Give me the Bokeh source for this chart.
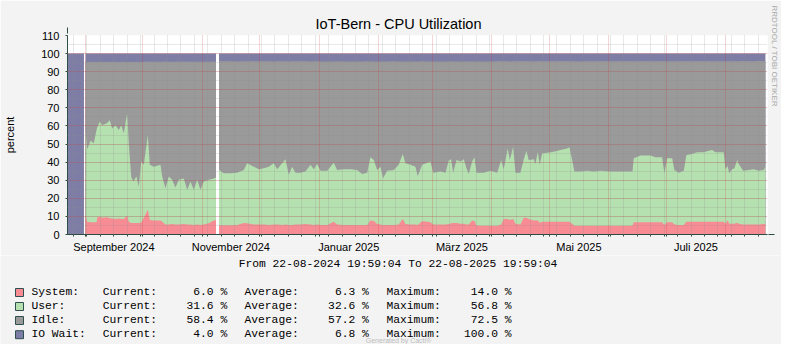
import math
import pandas as pd
from bokeh.plotting import figure
from bokeh.layouts import column
from bokeh.models import (ColumnDataSource, FixedTicker, SingleIntervalTicker, Title,
                          Range1d, Arrow, NormalHead)
from bokeh.core.properties import value
from bokeh.embed import file_html
from bokeh.resources import INLINE

NAN = float("nan")

# ---------------- data ----------------
TITLE = "IoT-Bern - CPU Utilization"
START = "2024-08-22 19:59:04"
END = "2025-08-22 19:59:04"
PERIOD_TEXT = "From 22-08-2024 19:59:04 To 22-08-2025 19:59:04"
WATERMARK = "RRDTOOL / TOBI OETIKER"
FOOTER = "Generated by Cacti®"

times = [
    "2024-08-22 19:59", "2024-08-31 10:00", "2024-08-31 20:00",
    "2024-09-01 06:00", "2024-09-02 02:00", "2024-09-03 20:00", "2024-09-05 13:00", "2024-09-06 23:00",
    "2024-09-07 11:00", "2024-09-08 16:00", "2024-09-09 22:00", "2024-09-12 13:00", "2024-09-13 21:00",
    "2024-09-15 03:00", "2024-09-16 21:00", "2024-09-18 14:00", "2024-09-19 20:00", "2024-09-21 04:00",
    "2024-09-22 23:00", "2024-09-23 19:00", "2024-09-25 01:00", "2024-09-26 02:00", "2024-09-27 19:00",
    "2024-09-29 00:00", "2024-09-30 06:00",
    "2024-10-01 15:00", "2024-10-03 17:00", "2024-10-04 18:00", "2024-10-06 20:00", "2024-10-10 08:00",
    "2024-10-11 05:00", "2024-10-12 22:00", "2024-10-14 16:00", "2024-10-16 10:00", "2024-10-18 03:00",
    "2024-10-19 21:00", "2024-10-22 11:00", "2024-10-24 06:00", "2024-10-25 23:00", "2024-10-27 16:00",
    "2024-10-29 11:00", "2024-10-31 04:00",
    "2024-11-01 21:00", "2024-11-04 12:00", "2024-11-07 03:00", "2024-11-08 06:00", "2024-11-09 01:00",
    "2024-11-09 20:00", "2024-11-12 08:00", "2024-11-15 19:00", "2024-11-19 07:00", "2024-11-22 18:00",
    "2024-11-24 12:00", "2024-11-27 23:00", "2024-11-30 14:00",
    "2024-12-03 04:00", "2024-12-05 19:00", "2024-12-08 09:00", "2024-12-10 04:00", "2024-12-12 18:00",
    "2024-12-14 12:00", "2024-12-16 05:00", "2024-12-17 23:00", "2024-12-19 17:00", "2024-12-22 07:00",
    "2024-12-24 22:00", "2024-12-27 13:00", "2024-12-29 06:00", "2024-12-31 00:00",
    "2025-01-01 18:00", "2025-01-05 06:00", "2025-01-08 16:00", "2025-01-10 11:00", "2025-01-13 21:00",
    "2025-01-17 09:00", "2025-01-20 21:00", "2025-01-23 12:00", "2025-01-26 02:00", "2025-01-27 19:00",
    "2025-01-29 13:00", "2025-01-31 07:00",
    "2025-02-02 00:00", "2025-02-03 10:00", "2025-02-05 12:00", "2025-02-08 23:00", "2025-02-11 13:00",
    "2025-02-13 16:00", "2025-02-15 01:00", "2025-02-17 16:00", "2025-02-20 06:00", "2025-02-21 11:00",
    "2025-02-23 18:00", "2025-02-26 09:00", "2025-02-28 02:00",
    "2025-03-01 12:00", "2025-03-05 07:00", "2025-03-07 22:00", "2025-03-09 15:00", "2025-03-10 21:00",
    "2025-03-11 22:00", "2025-03-13 16:00", "2025-03-15 18:00", "2025-03-17 11:00", "2025-03-18 21:00",
    "2025-03-20 01:00", "2025-03-21 20:00", "2025-03-23 01:00", "2025-03-24 02:00", "2025-03-27 21:00",
    "2025-03-31 09:00",
    "2025-04-03 21:00", "2025-04-05 23:00", "2025-04-07 07:00", "2025-04-09 09:00", "2025-04-10 11:00",
    "2025-04-12 05:00", "2025-04-13 10:00", "2025-04-16 00:00", "2025-04-17 18:00", "2025-04-19 03:00",
    "2025-04-20 08:00", "2025-04-22 23:00", "2025-04-23 20:00", "2025-04-25 01:00", "2025-04-26 02:00",
    "2025-04-27 08:00", "2025-04-29 23:00",
    "2025-05-03 09:00", "2025-05-06 21:00", "2025-05-10 09:00", "2025-05-11 13:00", "2025-05-12 23:00",
    "2025-05-14 04:00", "2025-05-17 07:00", "2025-05-20 19:00", "2025-05-24 06:00", "2025-05-27 18:00",
    "2025-06-01 23:00", "2025-06-07 04:00", "2025-06-13 10:00", "2025-06-14 02:00", "2025-06-17 14:00",
    "2025-06-22 19:00", "2025-06-25 10:00", "2025-06-28 21:00", "2025-06-30 02:00",
    "2025-07-01 12:00", "2025-07-04 03:00", "2025-07-05 07:00", "2025-07-07 13:00", "2025-07-10 04:00",
    "2025-07-11 13:00", "2025-07-14 13:00", "2025-07-17 03:00", "2025-07-20 14:00", "2025-07-23 05:00",
    "2025-07-24 23:00", "2025-07-26 16:00", "2025-07-31 00:00", "2025-07-31 22:00",
    "2025-08-02 02:00", "2025-08-02 20:00", "2025-08-04 09:00", "2025-08-05 14:00", "2025-08-07 00:00",
    "2025-08-07 20:00", "2025-08-10 03:00", "2025-08-13 01:00", "2025-08-15 16:00", "2025-08-18 06:00",
    "2025-08-20 21:00", "2025-08-21 18:00",
]

system = [
    0.0, 0.0, NAN,
    11.0, 7.0, 6.8, 6.8, 6.8, 9.7, 9.7, 9.2, 9.5, 9.0, 8.8, 8.6, 8.8, 8.5, 8.6, 10.4, 7.0, 6.4, 6.4, 6.4, 6.4, 6.5,
    9.2, 13.7, 8.0, 7.7, 7.7, 7.0, 5.5, 5.5, 5.8, 5.5, 5.5, 5.8, 5.5, 5.5, 5.3, 5.5, 5.3,
    5.5, 6.2, 7.7, 7.9, NAN, 5.1, 5.1, 5.1, 5.3, 6.4, 6.2, 5.5, 5.5,
    5.5, 5.3, 5.5, 5.5, 5.3, 5.5, 5.3, 5.3, 5.5, 5.5, 5.8, 5.5, 5.3, 5.5,
    5.3, 5.3, 7.0, 5.5, 5.3, 5.3, 5.2, 5.2, 5.3, 7.7, 7.5, 5.8,
    5.5, 5.3, 5.3, 5.3, 5.5, 8.6, 5.8, 5.5, 5.5, 5.3, 7.3, 7.0, 6.8,
    5.5, 5.5, 5.5, 5.8, 6.2, 6.4, 6.4, 6.0, 6.0, 5.5, 5.5, 7.7, 7.5, 5.0, 4.9, 4.9,
    4.9, 5.5, 8.6, 8.6, 8.0, 8.6, 6.0, 5.5, 9.2, 9.2, 8.5, 7.7, 7.7, 7.7, 6.5, 7.1, 7.1,
    7.1, 7.1, 7.1, 7.1, 6.0, 4.9, 4.9, 4.9, 4.9, 4.9,
    4.9, 4.9, 4.9, 6.8, 6.8, 6.8, 6.8, 6.8, 5.3,
    6.8, 6.8, 5.5, 5.3, 5.3, 7.1, 7.1, 7.1, 7.1, 7.1, 7.1, 7.1, 7.1, 6.0,
    7.9, 6.0, 6.0, 6.0, 6.5, 6.0, 5.5, 5.5, 5.5, 5.5, 5.8, 6.0,
]

user = [
    0.0, 0.0, NAN,
    46.7, 40.1, 45.0, 43.6, 50.9, 49.8, 52.6, 51.2, 52.2, 54.2, 49.8, 51.8, 48.9, 51.9, 47.3, 56.6, 43.4, 25.6,
    22.9, 25.6, 20.1, 33.8,
    29.3, 41.3, 30.5, 29.8, 30.8, 25.0, 20.1, 26.5, 24.4, 20.5, 24.7, 25.2, 19.2, 23.8, 19.4, 24.7, 19.4,
    23.8, 24.0, 23.3, 23.6, NAN, 30.6, 28.8, 28.8, 28.9, 29.3, 33.2, 32.0, 30.6,
    31.1, 32.2, 33.9, 30.6, 34.1, 36.1, 27.7, 32.2, 28.7, 28.7, 29.0, 33.0, 30.8, 33.5,
    30.0, 30.0, 32.7, 30.2, 30.8, 30.8, 30.5, 28.3, 28.9, 35.0, 33.7, 29.9,
    32.0, 25.8, 30.0, 30.4, 33.0, 35.9, 33.6, 33.0, 32.0, 27.0, 31.2, 32.7, 33.5,
    28.7, 29.3, 28.7, 35.1, 35.4, 27.8, 34.8, 34.3, 35.6, 31.1, 28.0, 32.6, 35.2, 29.2, 29.3, 30.3,
    29.3, 35.7, 27.5, 39.0, 33.2, 39.9, 28.2, 28.7, 32.4, 37.1, 32.7, 33.9, 31.3, 38.1, 32.0, 37.8, 38.1,
    38.7, 39.6, 40.5, 41.1, 35.2, 29.9, 29.9, 30.3, 29.9, 30.3,
    29.9, 29.9, 29.9, 35.3, 36.8, 36.8, 35.9, 35.9, 28.6,
    35.3, 35.3, 30.2, 28.9, 30.0, 36.9, 37.4, 38.3, 38.3, 39.2, 39.6, 38.3, 38.3, 30.1,
    30.0, 27.9, 30.1, 30.6, 34.7, 33.0, 29.8, 30.2, 30.6, 29.7, 29.9, 31.6,
]

iowait = [
    100.0, 100.0, NAN,
    4.4, 4.6, 4.6, 4.5, 4.6, 4.6, 4.5, 4.6, 4.6, 4.6, 4.5, 4.6, 4.6, 4.6, 4.5, 4.6, 4.6, 4.6, 4.6, 4.5, 4.6, 4.6,
    4.5, 4.5, 4.4, 4.5, 4.5, 4.5, 4.4, 4.5, 4.5, 4.5, 4.5, 4.4, 4.5, 4.5, 4.5, 4.5, 4.5,
    4.5, 4.5, 4.4, 4.5, NAN, 4.3, 4.3, 4.3, 4.4, 4.3, 4.3, 4.3, 4.3,
    4.3, 4.3, 4.4, 4.3, 4.3, 4.3, 4.4, 4.3, 4.3, 4.3, 4.3, 4.4, 4.3, 4.3,
    4.4, 4.4, 4.4, 4.3, 4.4, 4.4, 4.4, 4.4, 4.3, 4.4, 4.4, 4.4,
    4.4, 4.4, 4.4, 4.3, 4.4, 4.4, 4.4, 4.4, 4.4, 4.4, 4.3, 4.4, 4.4,
    4.4, 4.4, 4.4, 4.4, 4.3, 4.4, 4.4, 4.4, 4.4, 4.4, 4.4, 4.3, 4.4, 4.4, 4.4, 4.4,
    4.3, 4.3, 4.3, 4.3, 4.4, 4.3, 4.3, 4.3, 4.3, 4.3, 4.3, 4.4, 4.3, 4.3, 4.3, 4.3, 4.3,
    4.3, 4.3, 4.3, 4.3, 4.3, 4.3, 4.4, 4.3, 4.3, 4.3,
    4.3, 4.3, 4.3, 4.3, 4.3, 4.3, 4.3, 4.3, 4.3,
    4.2, 4.2, 4.2, 4.3, 4.2, 4.2, 4.2, 4.2, 4.2, 4.2, 4.2, 4.2, 4.2, 4.2,
    4.2, 4.2, 4.2, 4.2, 4.2, 4.2, 4.1, 4.2, 4.2, 4.1, 4.1, 4.0,
]

series_names = ["System:", "User:", "Idle:", "IO Wait:"]
series_colors = ["#F78C94", "#B5E0B0", "#9A9A9A", "#7D7DA6"]
current_vals = ["6.0 %", "31.6 %", "58.4 %", "4.0 %"]
average_vals = ["6.3 %", "32.6 %", "57.2 %", "6.8 %"]
maximum_vals = ["14.0 %", "56.8 %", "72.5 %", "100.0 %"]

x_label_months = ["2024-09-01", "2024-11-01", "2025-01-01", "2025-03-01", "2025-05-01", "2025-07-01"]
x_label_texts = ["September 2024", "November 2024", "Januar 2025", "März 2025", "Mai 2025", "Juli 2025"]
y_label = "percent"

assert len(times) == len(system) == len(user) == len(iowait)

# ---------------- styling / layout ----------------
BACK = "#F3F3F3"
AXIS = "#2C4D43"
MGRID = "#D03030"
GRID = "#8C8C8C"
W = 781
H_MAIN, H_LEG = 255, 89
FL, FR, FT, FB = 67, 767, 35, 235   # plot frame edges (px)
SANS = "Liberation Sans"
MONO = "Liberation Mono"


def ms(ts):
    return int(pd.Timestamp(ts).value // 10**6)


p = figure(width=W, height=H_MAIN, x_axis_type="datetime", output_backend="svg", toolbar_location=None,
           x_range=Range1d(ms(START), ms(END)), y_range=Range1d(0, 110),
           min_border_left=FL, min_border_right=W - FR, min_border_top=FT, min_border_bottom=H_MAIN - FB,
           background_fill_color="#FFFFFF", border_fill_color=BACK)
p.outline_line_color = None
p.frame_align = False

# title (left aligned at its measured start, above the frame)
p.title.text = TITLE
p.title.align = "left"
p.title.offset = 248
p.title.standoff = 7
p.title.text_font = SANS
p.title.text_font_size = "14.5px"
p.title.text_font_style = "normal"
p.title.text_color = "#000000"

p.add_layout(Title(text=WATERMARK, align="left", offset=-30, vertical_align="middle", standoff=2,
                   text_font=SANS, text_font_size="8px", text_font_style="normal",
                   text_color="#A8A8A8"), "right")

# ---------------- stacked areas ----------------
df = pd.DataFrame({"t": pd.to_datetime(times), "sys": system, "usr": user, "io": iowait})
df["top_sys"] = df["sys"]
df["top_usr"] = df["sys"] + df["usr"]
df["top_idle"] = 100.0 - df["io"]
df["top_io"] = 100.0
df["zero"] = 0.0
seg_id = df["sys"].isna().cumsum()
valid = df["sys"].notna()
layers = [("top_io", series_colors[3]), ("top_idle", series_colors[2]),
          ("top_usr", series_colors[1]), ("top_sys", series_colors[0])]
segments = [ColumnDataSource(seg) for _, seg in df[valid].groupby(seg_id[valid])]
for col, color in layers:
    for src in segments:
        p.varea(x="t", y1="zero", y2=col, source=src, fill_color=color, fill_alpha=1.0)

# ---------------- axes & grid ----------------
month_starts = [ms(t) for t in pd.date_range("2024-09-01", "2025-08-01", freq="MS")]
mondays = [ms(t) for t in pd.date_range("2024-08-26", "2025-08-22", freq="7D")]
label_ticks = []
for m in x_label_months:
    a = pd.Timestamp(m)
    b = a + pd.offsets.MonthBegin(1)
    label_ticks.append(ms(a + (b - a) / 2))

xa = p.xaxis[0]
xa.ticker = FixedTicker(ticks=label_ticks, minor_ticks=sorted(set(month_starts + mondays)))
xa.major_label_overrides = {t: s for t, s in zip(label_ticks, x_label_texts)}
xa.major_tick_out = 0
xa.major_tick_in = 0
xa.minor_tick_out = 2
xa.minor_tick_in = 0
xa.major_label_standoff = 4

ya = p.yaxis[0]
yt = SingleIntervalTicker(interval=10, num_minor_ticks=2)
ya.ticker = yt
ya.major_tick_out = 2
ya.major_tick_in = 0
ya.minor_tick_out = 0
ya.minor_tick_in = 0
ya.major_label_standoff = 6
ya.axis_label = y_label
ya.axis_label_standoff = 22
ya.axis_label_text_font = SANS
ya.axis_label_text_font_size = "11px"
ya.axis_label_text_font_style = "normal"
ya.axis_label_text_color = "#000000"

for ax in (xa, ya):
    ax.axis_line_color = AXIS
    ax.major_tick_line_color = AXIS
    ax.minor_tick_line_color = AXIS
    ax.major_label_text_font = SANS
    ax.major_label_text_font_size = "11px"
    ax.major_label_text_color = "#000000"

p.xgrid.ticker = FixedTicker(ticks=month_starts, minor_ticks=mondays)
p.ygrid.ticker = yt
for g in (p.xgrid[0], p.ygrid[0]):
    g.grid_line_color = MGRID
    g.grid_line_alpha = 0.4
    g.grid_line_dash = "1 1"
    g.grid_line_width = 1
    g.minor_grid_line_color = GRID
    g.minor_grid_line_alpha = 0.4
    g.minor_grid_line_dash = "1 1"
    g.minor_grid_line_width = 1
    g.level = "overlay"

# axis arrows
p.add_layout(Arrow(end=NormalHead(size=6, fill_color=AXIS, line_color=AXIS, line_width=1),
                   x_start=0, y_start=200, x_end=0, y_end=207,
                   start_units="screen", end_units="screen", line_color=AXIS, line_width=1))
p.add_layout(Arrow(end=NormalHead(size=6, fill_color=AXIS, line_color=AXIS, line_width=1),
                   x_start=700, y_start=0, x_end=707, y_end=0,
                   start_units="screen", end_units="screen", line_color=AXIS, line_width=1))

# ---------------- legend panel (pixel-scaled figure below the chart) ----------------
q = figure(width=W, height=H_LEG, output_backend="svg", toolbar_location=None,
           x_range=Range1d(0, W), y_range=Range1d(H_MAIN + H_LEG, H_MAIN),
           min_border=0, min_border_left=0, min_border_right=0, min_border_top=0, min_border_bottom=0,
           background_fill_color=BACK, border_fill_color=BACK)
q.frame_align = False
q.outline_line_color = None
q.axis.visible = False
q.grid.visible = False

row_y = [291.3, 305.3, 319.3, 333.5]
col_x = {"name": 31, "cur_lbl": 102.3, "cur": 226.7, "avg_lbl": 244, "avg": 368.3, "max_lbl": 386, "max": 511}

q.rect(x=[19] * 4, y=[y + 0.7 for y in row_y], width=8, height=8,
       fill_color=series_colors, line_color="#2F4F4F", line_width=1)

lx, ly, lt = [], [], []
rx, ry, rt = [], [], []
for i in range(4):
    y = row_y[i]
    for key, txt in (("name", series_names[i]), ("cur_lbl", "Current:"),
                     ("avg_lbl", "Average:"), ("max_lbl", "Maximum:")):
        lx.append(col_x[key]); ly.append(y); lt.append(txt)
    for key, txt in (("cur", current_vals[i]), ("avg", average_vals[i]), ("max", maximum_vals[i])):
        rx.append(col_x[key]); ry.append(y); rt.append(txt)

q.text(x=lx, y=ly, text=lt, text_font=value(MONO), text_font_size=value("11.3px"),
       text_align="left", text_baseline="middle", text_color="#000000")
q.text(x=rx, y=ry, text=rt, text_font=value(MONO), text_font_size=value("11.3px"),
       text_align="right", text_baseline="middle", text_color="#000000")
q.text(x=[397.5], y=[263.3], text=[PERIOD_TEXT], text_font=value(MONO), text_font_size=value("11.3px"),
       text_align="center", text_baseline="middle", text_color="#000000")
q.text(x=[398], y=[340.0], text=[FOOTER], text_font=value(SANS), text_font_size=value("7px"),
       text_align="center", text_baseline="middle", text_color="#BDBDBD")

layout = column(p, q, spacing=0)
open("out.html", "w").write(file_html(layout, INLINE))
